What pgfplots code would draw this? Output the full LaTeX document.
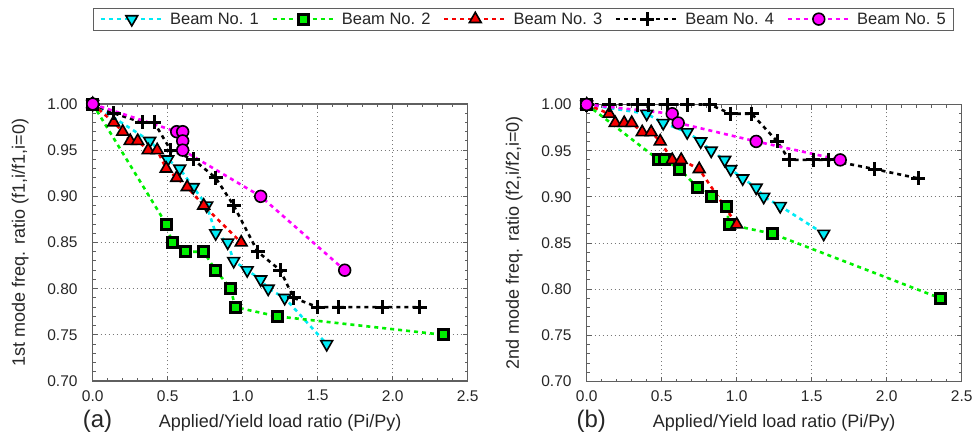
\documentclass[border=0pt]{standalone}
\usepackage{fontspec}
\setmainfont{Liberation Sans}
\usepackage{pgfplots}
\pgfplotsset{compat=1.18}
\definecolor{axgray}{RGB}{95,95,95}
\definecolor{gridgray}{RGB}{120,120,120}
\definecolor{cy}{RGB}{0,235,245}
\definecolor{gr}{RGB}{0,240,0}
\definecolor{rd}{RGB}{245,0,0}
\definecolor{mg}{RGB}{255,0,255}
\pgfplotsset{
  dashpat/.style={line width=2.6pt, dash pattern=on 4pt off 4pt},
  bone/.style={color=cy, dashpat, mark=triangle*, mark size=6.8pt,
    mark options={solid, rotate=180, fill=cy, draw=black, line width=1.6pt}},
  btwo/.style={color=gr, dashpat, mark=square*, mark size=5pt,
    mark options={solid, fill=gr, draw=black, line width=3pt}},
  bthree/.style={color=rd, dashpat, mark=triangle*, mark size=6.8pt,
    mark options={solid, fill=rd, draw=black, line width=1.6pt}},
  bfour/.style={color=black, dashpat, mark=+, mark size=7pt,
    mark options={solid, draw=black, line width=3pt}},
  bfive/.style={color=mg, dashpat, mark=*, mark size=5.9pt,
    mark options={solid, fill=mg, draw=black, line width=1.6pt}},
  myaxis/.style={
    scale only axis, width=375pt, height=277pt,
    xmin=0, xmax=2.5, ymin=0.7, ymax=1.0,
    xtick={0,0.5,1,1.5,2,2.5}, ytick={0.7,0.75,0.8,0.85,0.9,0.95,1.0},
    minor x tick num=4, minor y tick num=4,
    /pgf/number format/assume math mode=true,
    xticklabel style={/pgf/number format/fixed, /pgf/number format/fixed zerofill, /pgf/number format/precision=1, yshift=-9pt},
    yticklabel style={/pgf/number format/fixed, /pgf/number format/fixed zerofill, /pgf/number format/precision=2, xshift=-15pt},
    tick label style={font=\fontsize{15.5}{18}\selectfont, inner sep=0pt, text=black!85},
    grid=major, major grid style={gridgray, line width=0.9pt, dash pattern=on 1pt off 3pt},
    axis line style={axgray, line width=1.3pt},
    tick style={axgray, line width=1pt},
    major tick length=5pt, minor tick length=3pt, tick align=inside,
    label style={font=\fontsize{18}{21}\selectfont, text=black!85},
    xlabel={Applied/Yield load ratio (Pi/Py)},
    xlabel style={at={(axis description cs:0.5,0)}, anchor=north, inner sep=0pt, yshift=-33pt},
    ylabel style={at={(axis description cs:-0.193,0.5)}, anchor=center, inner sep=0pt},
    clip=false,
    legend image code/.code={\draw[mark repeat=2,mark phase=2,#1] plot coordinates {(0pt,0pt) (31pt,0pt) (62pt,0pt)};},
  },
}
\begin{document}
\begin{tikzpicture}
\useasboundingbox (0pt,0pt) rectangle (975pt,437pt);
\begin{axis}[myaxis, at={(92.7pt,56pt)}, anchor=south west,
  ylabel={1st mode freq. ratio (f1,i/f1,i=0)},
  legend columns=5,
  legend style={at={(axis description cs:0.0008,1.348)}, anchor=north west,
    draw=axgray, line width=1pt, font=\fontsize{16.5}{19}\selectfont,
    inner xsep=6pt, inner ysep=2.5pt, nodes={inner sep=2pt, text=black!85},
    /tikz/every odd column/.style={column sep=4pt},
    /tikz/every even column/.style={column sep=10.5pt}},
]
\addplot[bone] coordinates {(0,1) (0.38,0.96) (0.50,0.94) (0.58,0.93) (0.67,0.91) (0.76,0.89) (0.82,0.86) (0.90,0.85) (0.94,0.83) (1.03,0.82) (1.12,0.81) (1.17,0.80) (1.28,0.79) (1.56,0.74)};
\addlegendentry{Beam No. 1}
\addplot[btwo] coordinates {(0,1) (0.49,0.87) (0.53,0.85) (0.62,0.84) (0.74,0.84) (0.82,0.82) (0.92,0.80) (0.95,0.78) (1.23,0.77) (2.34,0.75)};
\addlegendentry{Beam No. 2}
\addplot[bthree] coordinates {(0,1) (0.14,0.98) (0.20,0.97) (0.25,0.96) (0.30,0.96) (0.37,0.95) (0.43,0.95) (0.49,0.93) (0.56,0.92) (0.63,0.91) (0.74,0.89) (0.99,0.85)};
\addlegendentry{Beam No. 3}
\addplot[bfour] coordinates {(0,1) (0.14,0.99) (0.33,0.98) (0.41,0.98) (0.52,0.95) (0.67,0.94) (0.82,0.92) (0.94,0.89) (1.10,0.84) (1.25,0.82) (1.34,0.79) (1.50,0.78) (1.64,0.78) (1.93,0.78) (2.18,0.78)};
\addlegendentry{Beam No. 4}
\addplot[bfive] coordinates {(0,1) (0.56,0.97) (0.60,0.97) (0.60,0.96) (0.60,0.95) (1.12,0.90) (1.68,0.82)};
\addlegendentry{Beam No. 5}
\node[font=\fontsize{24}{28}\selectfont, text=black!85, inner sep=0pt] at (axis description cs:0.013,-0.144) {(a)};
\end{axis}
\begin{axis}[myaxis, at={(586.7pt,55.5pt)}, anchor=south west,
  ylabel={2nd mode freq. ratio (f2,i/f2,i=0)},
]
\addplot[bone] coordinates {(0,1) (0.40,0.99) (0.51,0.98) (0.67,0.97) (0.76,0.96) (0.83,0.95) (0.92,0.94) (0.96,0.93) (1.04,0.92) (1.13,0.91) (1.18,0.90) (1.29,0.89) (1.58,0.86)};
\addplot[btwo] coordinates {(0,1) (0.48,0.94) (0.52,0.94) (0.62,0.93) (0.74,0.91) (0.83,0.90) (0.93,0.89) (0.95,0.87) (1.24,0.86) (2.36,0.79)};
\addplot[bthree] coordinates {(0,1) (0.15,0.99) (0.19,0.98) (0.25,0.98) (0.30,0.98) (0.37,0.97) (0.43,0.97) (0.49,0.96) (0.57,0.94) (0.63,0.94) (0.75,0.93) (1.00,0.87)};
\addplot[bfour] coordinates {(0,1) (0.15,1.00) (0.34,1.00) (0.41,1.00) (0.54,1.00) (0.67,1.00) (0.82,1.00) (0.96,0.99) (1.10,0.99) (1.27,0.96) (1.35,0.94) (1.51,0.94) (1.61,0.94) (1.92,0.93) (2.21,0.92)};
\addplot[bfive] coordinates {(0,1) (0.57,0.99) (0.61,0.98) (1.13,0.96) (1.69,0.94)};
\node[font=\fontsize{24}{28}\selectfont, text=black!85, inner sep=0pt] at (axis description cs:0.012,-0.144) {(b)};
\end{axis}
\end{tikzpicture}
\end{document}
